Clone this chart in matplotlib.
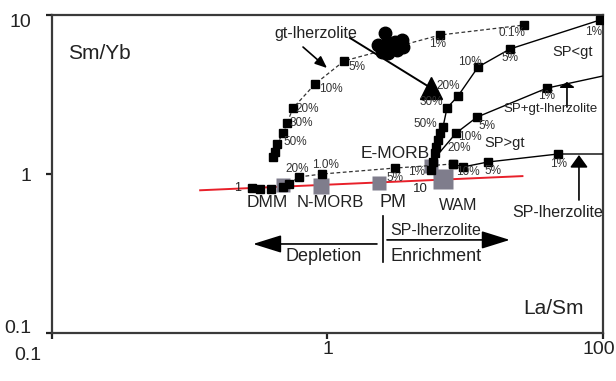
import matplotlib
matplotlib.use("Agg")
import matplotlib.pyplot as plt
from matplotlib import font_manager
from matplotlib.ticker import NullLocator
from matplotlib.transforms import ScaledTranslation

# mantle reservoirs (La/Sm, Sm/Yb)
reservoirs = ["DMM", "N-MORB", "PM", "E-MORB", "WAM"]
res_la_sm = [0.69, 0.947, 1.538, 2.376, 2.63]
res_sm_yb = [0.853, 0.840, 0.878, 1.123, 0.93]

# mantle array
array_la_sm = [0.345, 5.1]
array_sm_yb = [0.79, 0.97]

# DMM -> E-MORB melting / mixing trend
mix_la_sm = [0.532, 0.569, 0.624, 0.69, 0.725, 0.788, 0.955, 1.758, 2.855]
mix_sm_yb = [0.817, 0.805, 0.805, 0.828, 0.865, 0.958, 1.0, 1.09, 1.156]

# gt-lherzolite melting curve
gt_la_sm = [0.634, 0.645, 0.656, 0.690, 0.713, 0.750, 0.901, 1.148, 2.56, 5.17]
gt_sm_yb = [1.279, 1.375, 1.545, 1.81, 2.094, 2.60, 3.68, 5.14, 7.485, 8.65]

# SP-lherzolite melting curve (last point = plot edge)
sp_la_sm = [2.855, 3.10, 3.825, 6.87, 10.0]
sp_sm_yb = [1.156, 1.107, 1.19, 1.336, 1.336]

# SP<gt melting curve
splt_la_sm = [2.376, 2.415, 2.455, 2.477, 2.518, 2.56, 2.626, 2.715, 2.976, 3.52, 4.59, 9.75]
splt_sm_yb = [1.06, 1.19, 1.356, 1.479, 1.637, 1.81, 1.975, 2.60, 3.094, 4.71, 6.11, 9.30]

# SP+gt-lherzolite melting curve (first/last point = line ends)
spgt_la_sm = [2.56, 2.93, 3.49, 6.26, 10.0]
spgt_sm_yb = [1.375, 1.81, 2.28, 3.47, 4.135]

# samples and their mean
samp_la_sm = [1.617, 1.525, 1.644, 1.758, 1.864, 1.88, 1.788, 1.658, 1.577]
samp_sm_yb = [7.70, 6.48, 6.67, 6.76, 6.96, 6.29, 6.02, 5.77, 5.85]
mean_la_sm = [2.376]
mean_sm_yb = [3.47]

TXT = "#222222"
GRAY = "#7f7d8c"

names = {f.name for f in font_manager.fontManager.ttflist}
narrow = "Liberation Sans Narrow" if "Liberation Sans Narrow" in names else "Liberation Sans"
plt.rcParams["font.family"] = ["Liberation Sans", "DejaVu Sans"]

fig = plt.figure(figsize=(6.16, 3.81), dpi=100)
ax = fig.add_axes([0.0844, 0.126, 0.8945, 0.8346])
ax.set_xscale("log")
ax.set_yscale("log")
ax.set_xlim(0.1, 10)
ax.set_ylim(0.1, 10)

for s in ax.spines.values():
    s.set_color("#3a3a3a")
    s.set_linewidth(1.6)
ax.set_xticks([0.1, 1, 10])
ax.set_xticklabels(["0.1", "1", "100"])
ax.set_yticks([0.1, 1, 10])
ax.set_yticklabels(["0.1", "1", "10"])
ax.xaxis.set_minor_locator(NullLocator())
ax.yaxis.set_minor_locator(NullLocator())
ax.tick_params(length=4, width=1.6, color="#222222", labelsize=14, labelcolor=TXT)
ax.tick_params(axis="y", pad=11)
ax.tick_params(axis="x", pad=2)

# nudge the end labels inwards / down a bit
def nudge(lbl, dx, dy):
    lbl.set_transform(lbl.get_transform() + ScaledTranslation(dx / 100, dy / 100, fig.dpi_scale_trans))

xl = ax.get_xticklabels()
yl = ax.get_yticklabels()
nudge(xl[0], -24, -6)
nudge(xl[2], -4, 0)
nudge(yl[0], 0, 6)
nudge(yl[2], 0, -5)

# mantle array and reservoirs
ax.plot(array_la_sm, array_sm_yb, color="#e8202a", lw=1.4, zorder=2)
sizes = [10, 11, 9.5, 9.5, 14]
for x, y, ms in zip(res_la_sm, res_sm_yb, sizes):
    ax.plot(x, y, "s", ms=ms, color=GRAY, mec="none", zorder=3)

sq = dict(marker="s", ms=5.5, color="black", mec="black", ls="none", zorder=5)
dash = dict(color="#333333", lw=0.9, ls=(0, (3, 2)), zorder=4)
solid = dict(color="black", lw=1.0, zorder=4)

ax.plot(mix_la_sm[4:], mix_sm_yb[4:], **dash)
ax.plot(mix_la_sm, mix_sm_yb, **sq)

ax.plot(gt_la_sm, gt_sm_yb, **dash)
ax.plot(gt_la_sm, gt_sm_yb, **sq)

ax.plot(sp_la_sm, sp_sm_yb, **solid)
ax.plot(sp_la_sm[:-1], sp_sm_yb[:-1], **sq)

ax.plot(splt_la_sm, splt_sm_yb, **solid)
ax.plot(splt_la_sm, splt_sm_yb, **sq)

ax.plot(spgt_la_sm, spgt_sm_yb, **solid)
ax.plot(spgt_la_sm[1:-1], spgt_sm_yb[1:-1], **sq)

ax.plot(samp_la_sm, samp_sm_yb, "o", ms=9, color="black", zorder=6)

# gt-lherzolite pointers
ax.plot([1.207, mean_la_sm[0]], [7.17, mean_sm_yb[0]], color="black", lw=1.4, zorder=5)
ax.plot(mean_la_sm, mean_sm_yb, "^", ms=16, color="black", zorder=6)
ax.annotate("", xy=(0.996, 4.64), xytext=(0.815, 6.29),
            arrowprops=dict(arrowstyle="-|>,head_length=0.6,head_width=0.25",
                            mutation_scale=12, color="black", lw=1.2,
                            shrinkA=0, shrinkB=0))

# source arrows on the right
ax.annotate("", xy=(8.18, 1.317), xytext=(8.18, 0.686),
            arrowprops=dict(arrowstyle="-|>,head_length=0.5,head_width=0.36",
                            mutation_scale=15, color="black", lw=1.2,
                            shrinkA=0, shrinkB=0))
ax.annotate("", xy=(7.4, 3.79), xytext=(7.4, 2.638),
            arrowprops=dict(arrowstyle="-|>,head_length=0.3,head_width=0.45",
                            mutation_scale=10, color="black", lw=1.2,
                            shrinkA=0, shrinkB=0))

# depletion / enrichment
big = dict(arrowstyle="-|>,head_length=0.8,head_width=0.25", mutation_scale=22,
           color="black", lw=1.2, shrinkA=0, shrinkB=0)
ax.annotate("", xy=(0.537, 0.363), xytext=(1.512, 0.363), arrowprops=big)
ax.annotate("", xy=(4.59, 0.385), xytext=(1.644, 0.385), arrowprops=big)
ax.plot([1.591, 1.591], [0.28, 0.544], color="black", lw=1.2)

def label(s, fx, fy, size, **kw):
    ax.text(fx, fy, s, transform=ax.transAxes, fontsize=size, color=kw.pop("color", TXT),
            ha=kw.pop("ha", "center"), va=kw.pop("va", "center"), zorder=7, **kw)

label("Sm/Yb", 0.0853, 0.8805, 15)
label("La/Sm", 0.911, 0.0786, 15)
label("gt-lherzolite", 0.479, 0.943, 11.5)
label("E-MORB", 0.6225, 0.563, 12.5)
label("DMM", 0.390, 0.409, 12.5)
label("N-MORB", 0.506, 0.409, 12)
label("PM", 0.619, 0.409, 13)
label("WAM", 0.737, 0.4025, 11.5)
label("10", 0.668, 0.453, 9.5)
label("1", 0.336, 0.456, 9)
label("Depletion", 0.4936, 0.239, 13)
label("Enrichment", 0.697, 0.239, 13)
label("SP-lherzolite", 0.697, 0.3208, 11.5)
label("SP-lherzolite", 0.918, 0.3805, 11.5)
label("SP<gt", 0.9456, 0.8836, 10.5)
label("SP+gt-lherzolite", 0.904, 0.704, 9.5)
label("SP>gt", 0.822, 0.597, 10.5)

pct = [
    ("50%", 0.441, 0.6006), ("30%", 0.452, 0.660), ("20%", 0.463, 0.704),
    ("10%", 0.506, 0.767), ("5%", 0.5535, 0.8365), ("1%", 0.699, 0.909),
    ("0.1%", 0.835, 0.943),
    ("20%", 0.4446, 0.516), ("1.0%", 0.497, 0.528), ("5%", 0.6225, 0.487),
    ("1%", 0.6624, 0.506),
    ("10%", 0.755, 0.506), ("5%", 0.800, 0.509), ("1%", 0.920, 0.531),
    ("1%", 0.9837, 0.9465), ("5%", 0.831, 0.865), ("10%", 0.7586, 0.852),
    ("20%", 0.7187, 0.777), ("30%", 0.688, 0.726), ("50%", 0.677, 0.657),
    ("20%", 0.7387, 0.582), ("10%", 0.7586, 0.616), ("5%", 0.789, 0.651),
    ("1%", 0.898, 0.745),
]
for s, fx, fy in pct:
    label(s, fx, fy, 8.5, color="#333333", family=[narrow, "DejaVu Sans"])

fig.savefig("out.png", dpi=100)
